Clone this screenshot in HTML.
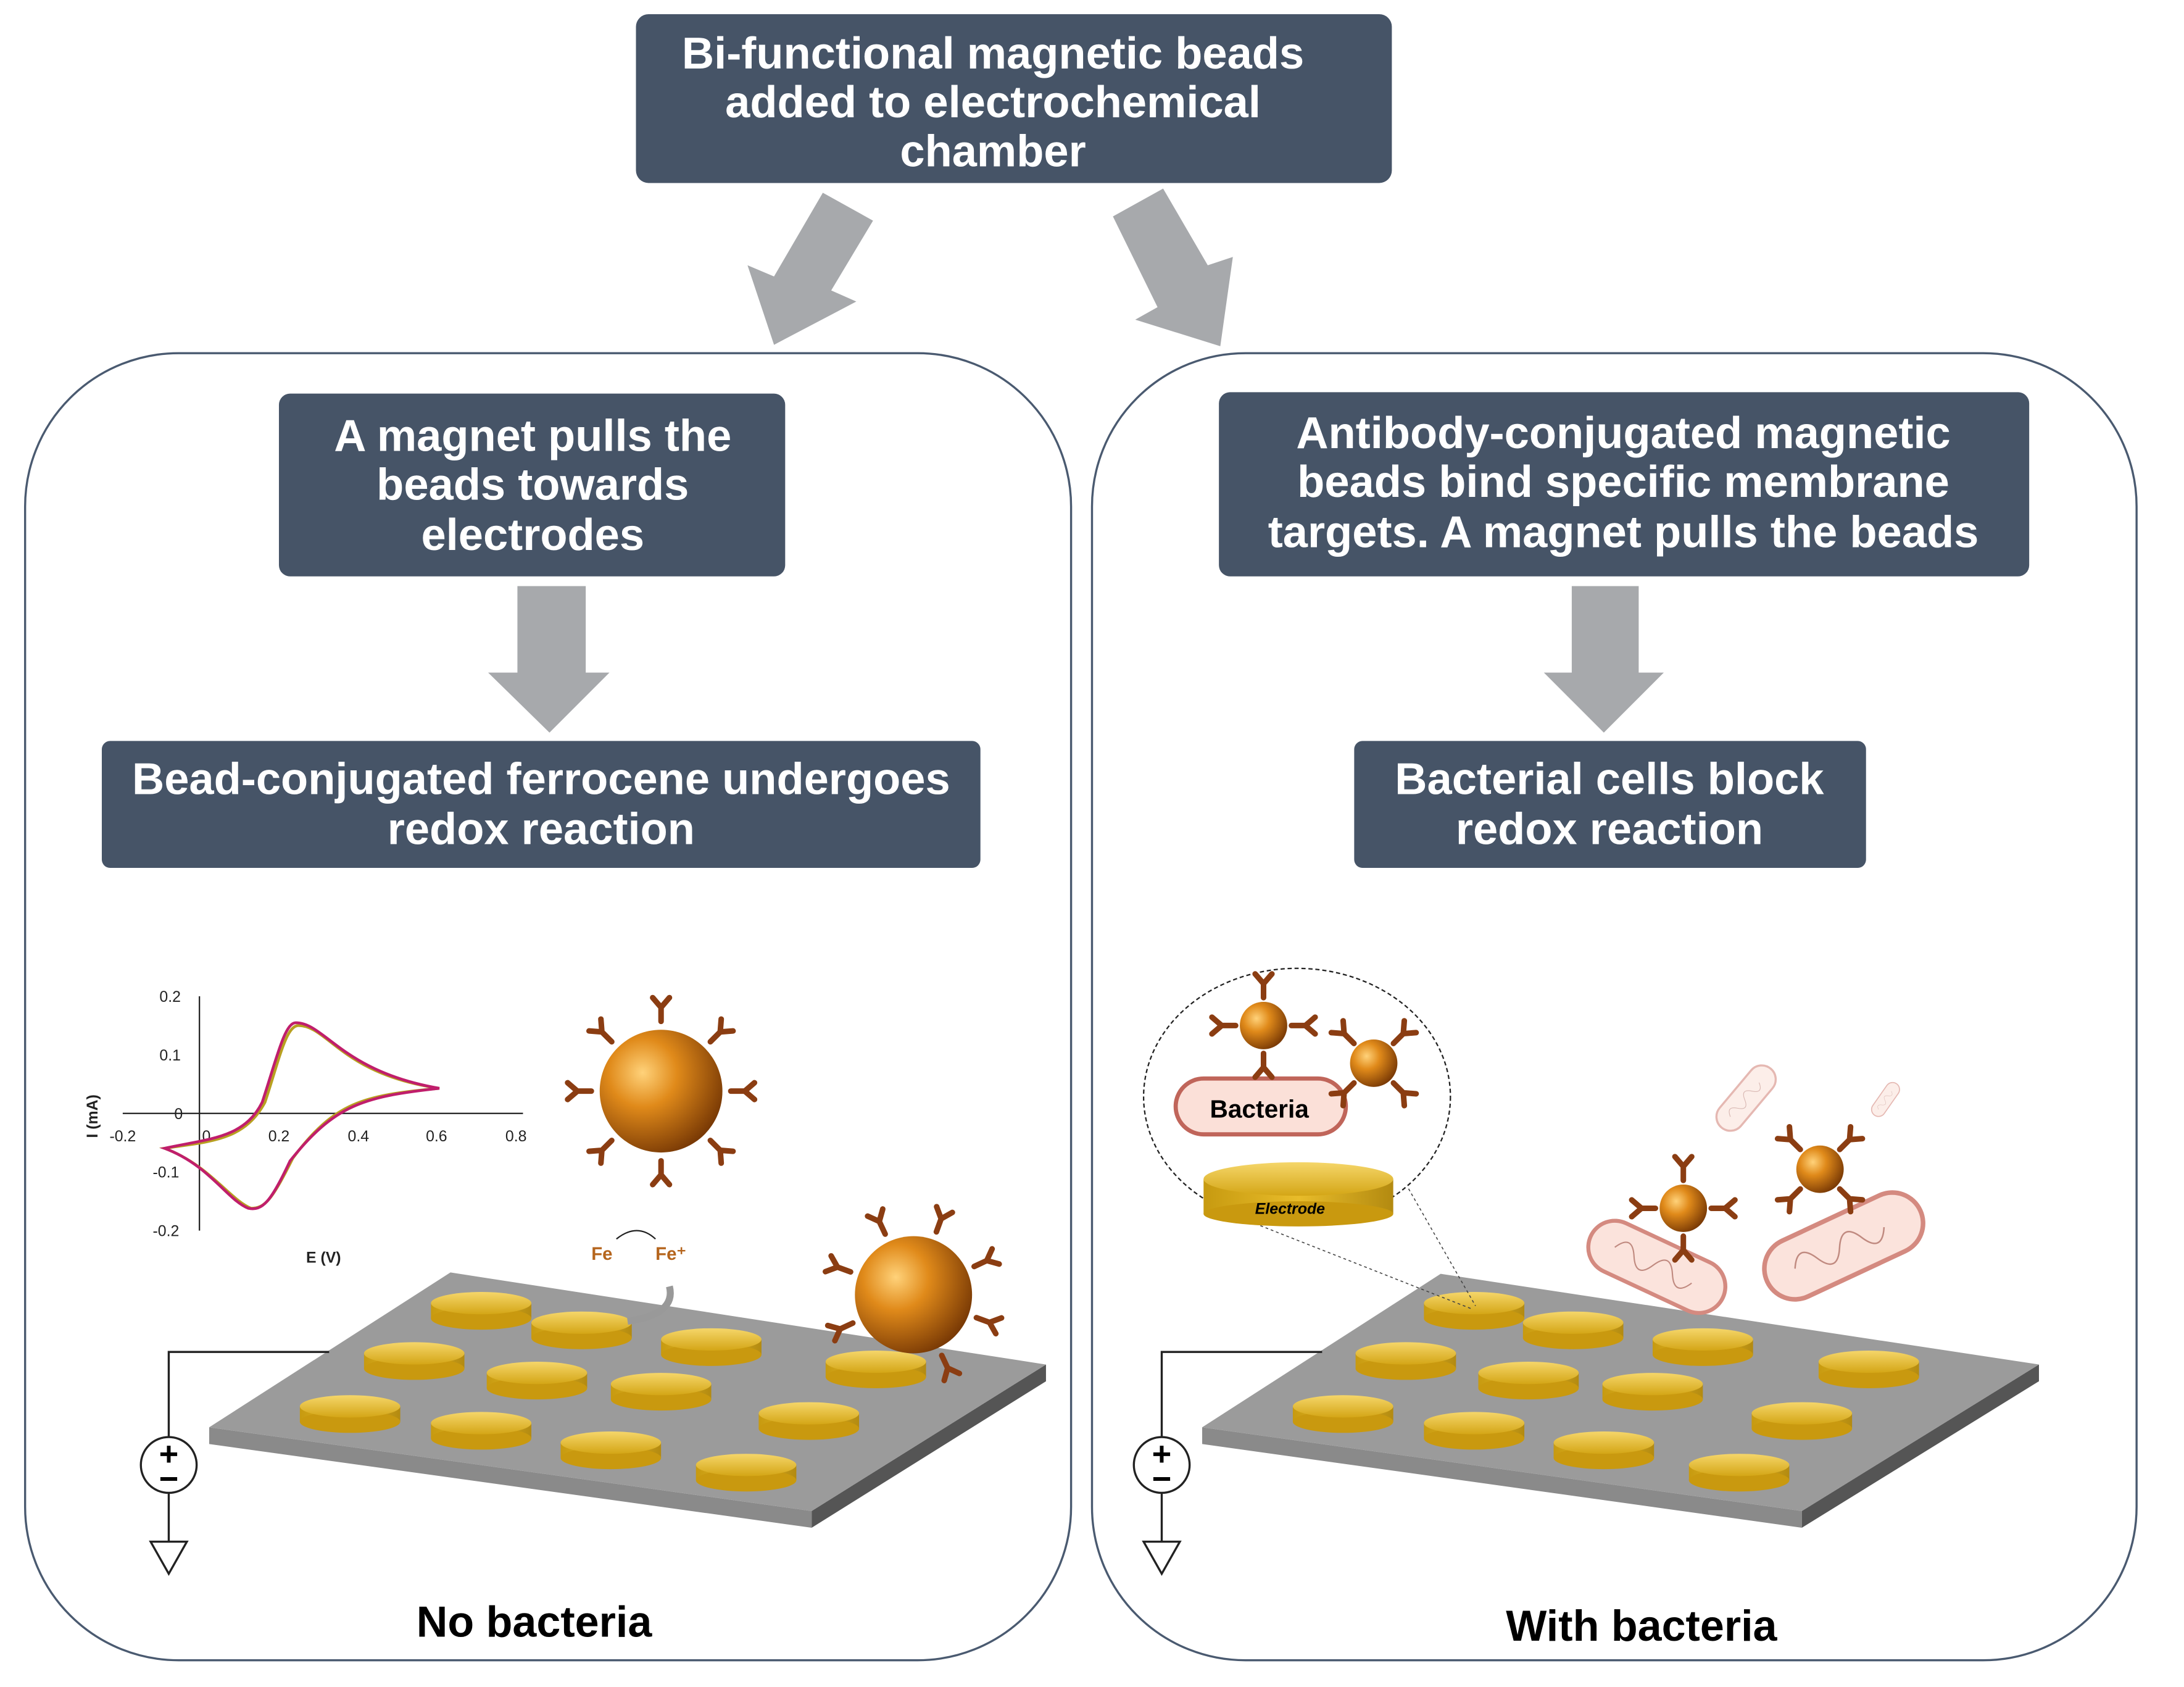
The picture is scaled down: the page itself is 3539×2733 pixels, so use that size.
<!DOCTYPE html>
<html><head><meta charset="utf-8"><style>html,body{margin:0;padding:0;background:#fff}svg{display:block}</style></head><body>
<svg width="3539" height="2733" viewBox="0 0 1566 1209" xmlns="http://www.w3.org/2000/svg" font-family="Liberation Sans, sans-serif">
<defs>
<radialGradient id="bead" cx="0.35" cy="0.35" r="0.7"><stop offset="0" stop-color="#ffd27a"/><stop offset="0.4" stop-color="#e08a1a"/><stop offset="1" stop-color="#7a3a05"/></radialGradient>
<linearGradient id="gold" x1="0" y1="0" x2="0" y2="1"><stop offset="0" stop-color="#f5d66a"/><stop offset="1" stop-color="#d4a616"/></linearGradient>
<linearGradient id="goldside" x1="0" y1="0" x2="1" y2="0"><stop offset="0" stop-color="#c79a10"/><stop offset="0.5" stop-color="#e8bc2a"/><stop offset="1" stop-color="#b38a10"/></linearGradient>
<g id="el"><rect x="-36" y="0" width="72" height="11" fill="url(#goldside)"/><ellipse cx="0" cy="11" rx="36" ry="8" fill="#c9990f"/><ellipse cx="0" cy="0" rx="36" ry="8" fill="url(#gold)"/></g>
<g id="ab" stroke="#8b3d12" stroke-width="4" fill="none" stroke-linecap="round"><path d="M0 0 L0 -10 M0 -10 L-6 -17 M0 -10 L6 -17"/></g>
<g id="bact"><rect x="-55" y="-20" width="110" height="40" rx="20" fill="#fbe3dc" stroke="#d48a80" stroke-width="3"/><path d="M-35 0 q8 -15 16 0 t16 0 t16 0 t16 0" stroke="#c08a80" fill="none"/></g>
</defs>
<rect x="456" y="10" width="542" height="121" rx="9" fill="#465467"/>
<g fill="#fff" font-weight="bold" font-size="32" text-anchor="middle">
<text x="712" y="49">Bi-functional magnetic beads</text>
<text x="712" y="84">added to electrochemical</text>
<text x="712" y="119">chamber</text>
</g>
<polygon points="590,138 626,158 596,208 614,216 555,247 536,190 555,198" fill="#a7a9ac"/>
<polygon points="798,155 834,135 866,190 884,184 875,248 814,229 830,220" fill="#a7a9ac"/>
<rect x="18" y="253" width="750" height="937" rx="110" fill="none" stroke="#4a5a70" stroke-width="1.5"/>
<rect x="783" y="253" width="749" height="937" rx="110" fill="none" stroke="#4a5a70" stroke-width="1.5"/>
<rect x="200" y="282" width="363" height="131" rx="8" fill="#465467"/>
<rect x="73" y="531" width="630" height="91" rx="6" fill="#465467"/>
<rect x="874" y="281" width="581" height="132" rx="8" fill="#465467"/>
<rect x="971" y="531" width="367" height="91" rx="6" fill="#465467"/>
<g fill="#fff" font-weight="bold" font-size="32" text-anchor="middle">
<text x="382" y="323">A magnet pulls the</text>
<text x="382" y="358">beads towards</text>
<text x="382" y="394">electrodes</text>
<text x="388" y="569">Bead-conjugated ferrocene undergoes</text>
<text x="388" y="605">redox reaction</text>
<text x="1164" y="321">Antibody-conjugated magnetic</text>
<text x="1164" y="356">beads bind specific membrane</text>
<text x="1164" y="392">targets. A magnet pulls the beads</text>
<text x="1154" y="569">Bacterial cells block</text>
<text x="1154" y="605">redox reaction</text>
</g>
<polygon points="371,420 420,420 420,482 437,482 394,525 350,482 371,482" fill="#a7a9ac"/>
<polygon points="1127,420 1175,420 1175,482 1193,482 1150,525 1107,482 1127,482" fill="#a7a9ac"/>
<text x="383" y="1173" font-weight="bold" font-size="31" text-anchor="middle">No bacteria</text>
<text x="1177" y="1176" font-weight="bold" font-size="31" text-anchor="middle">With bacteria</text>
<polygon points="150,1023 582,1083 582,1095 150,1035" fill="#8a8a8a"/>
<polygon points="582,1083 750,978 750,990 582,1095" fill="#555"/>
<polygon points="323,912 750,978 582,1083 150,1023" fill="#9b9b9b"/>
<g>
<use href="#el" x="345" y="934"/><use href="#el" x="417" y="948"/><use href="#el" x="510" y="960"/><use href="#el" x="628" y="976"/>
<use href="#el" x="297" y="970"/><use href="#el" x="385" y="984"/><use href="#el" x="474" y="992"/><use href="#el" x="580" y="1013"/>
<use href="#el" x="251" y="1008"/><use href="#el" x="345" y="1020"/><use href="#el" x="438" y="1034"/><use href="#el" x="535" y="1050"/>
</g>
<polygon points="862,1023 1292,1083 1292,1095 862,1035" fill="#8a8a8a"/>
<polygon points="1292,1083 1462,978 1462,990 1292,1095" fill="#555"/>
<polygon points="1033,913 1462,978 1292,1083 862,1023" fill="#9b9b9b"/>
<g>
<use href="#el" x="1057" y="934"/><use href="#el" x="1128" y="948"/><use href="#el" x="1221" y="960"/><use href="#el" x="1340" y="976"/>
<use href="#el" x="1008" y="970"/><use href="#el" x="1096" y="984"/><use href="#el" x="1185" y="992"/><use href="#el" x="1292" y="1013"/>
<use href="#el" x="963" y="1008"/><use href="#el" x="1057" y="1020"/><use href="#el" x="1150" y="1034"/><use href="#el" x="1247" y="1050"/>
</g>
<g stroke="#222" stroke-width="1.5" fill="none">
<path d="M236 969 H121 V1030 M121 1070 V1105 M108 1105 H134 L121 1128 Z"/>
<circle cx="121" cy="1050" r="20" fill="#fff"/>
<path d="M948 969 H833 V1030 M833 1070 V1105 M820 1105 H846 L833 1128 Z"/>
<circle cx="833" cy="1050" r="20" fill="#fff"/>
</g>
<g font-weight="bold" font-size="24" text-anchor="middle"><text x="121" y="1050">+</text><text x="121" y="1068">−</text><text x="833" y="1050">+</text><text x="833" y="1068">−</text></g>
<g stroke="#222" stroke-width="1" fill="none"><path d="M88 798 H375 M143 714 V882"/></g>
<g font-size="11" text-anchor="middle" fill="#222">
<text x="88" y="818">-0.2</text><text x="148" y="818">0</text><text x="200" y="818">0.2</text><text x="257" y="818">0.4</text><text x="313" y="818">0.6</text><text x="370" y="818">0.8</text>
<text x="122" y="718">0.2</text><text x="122" y="760">0.1</text><text x="128" y="802">0</text><text x="119" y="844">-0.1</text><text x="119" y="886">-0.2</text>
<text x="232" y="905" font-weight="bold">E (V)</text>
<text x="70" y="800" transform="rotate(-90 70 800)" font-weight="bold">I (mA)</text>
</g>
<path d="M118 823 C150 818 175 818 190 790 C200 760 205 735 214 735 C235 735 245 770 315 780 C260 785 240 790 210 830 C195 860 190 866 180 866 C165 860 150 835 118 823 Z" fill="none" stroke="#b8a020" stroke-width="2"/>
<path d="M118 823 C150 816 175 816 188 790 C198 760 204 733 212 733 C233 733 245 768 315 780 C260 786 240 792 208 832 C194 862 188 868 178 866 C163 860 150 835 118 823 Z" fill="none" stroke="#c01e6c" stroke-width="2"/>
<g>
<use href="#ab" transform="translate(474,782) rotate(0) translate(0,-50)"/><use href="#ab" transform="translate(474,782) rotate(45) translate(0,-50)"/><use href="#ab" transform="translate(474,782) rotate(90) translate(0,-50)"/><use href="#ab" transform="translate(474,782) rotate(135) translate(0,-50)"/><use href="#ab" transform="translate(474,782) rotate(180) translate(0,-50)"/><use href="#ab" transform="translate(474,782) rotate(225) translate(0,-50)"/><use href="#ab" transform="translate(474,782) rotate(270) translate(0,-50)"/><use href="#ab" transform="translate(474,782) rotate(315) translate(0,-50)"/>
<circle cx="474" cy="782" r="44" fill="url(#bead)"/>
<use href="#ab" transform="translate(655,928) rotate(20) translate(0,-48)"/><use href="#ab" transform="translate(655,928) rotate(65) translate(0,-48)"/><use href="#ab" transform="translate(655,928) rotate(110) translate(0,-48)"/><use href="#ab" transform="translate(655,928) rotate(155) translate(0,-48)"/><use href="#ab" transform="translate(655,928) rotate(245) translate(0,-48)"/><use href="#ab" transform="translate(655,928) rotate(290) translate(0,-48)"/><use href="#ab" transform="translate(655,928) rotate(335) translate(0,-48)"/>
<circle cx="655" cy="928" r="42" fill="url(#bead)"/>
</g>
<g font-size="13" font-weight="bold" fill="#b5651d"><text x="424" y="903">Fe</text><text x="470" y="903">Fe⁺</text></g>
<path d="M442 888 q15 -12 28 0" stroke="#222" fill="none"/>
<path d="M480 922 q5 20 -30 25" stroke="#999" stroke-width="5" fill="none"/>
<ellipse cx="930" cy="786" rx="110" ry="92" fill="#fff" stroke="#222" stroke-dasharray="3,2"/>
<path d="M900 877 L1055 938 M1010 852 L1058 936" stroke="#444" stroke-dasharray="2,2" stroke-width="0.7"/>
<rect x="843" y="773" width="122" height="40" rx="20" fill="#fbe0d8" stroke="#c0655a" stroke-width="3"/>
<text x="903" y="801" font-weight="bold" font-size="18" text-anchor="middle">Bacteria</text>
<rect x="863" y="845" width="136" height="25" fill="url(#goldside)"/>
<ellipse cx="931" cy="870" rx="68" ry="9" fill="#c9990f"/>
<ellipse cx="931" cy="845" rx="68" ry="12" fill="url(#gold)"/>
<text x="925" y="870" font-weight="bold" font-style="italic" font-size="11" text-anchor="middle">Electrode</text>
<g>
<use href="#ab" transform="translate(906,735) rotate(0) translate(0,-20)"/><use href="#ab" transform="translate(906,735) rotate(90) translate(0,-20)"/><use href="#ab" transform="translate(906,735) rotate(180) translate(0,-20)"/><use href="#ab" transform="translate(906,735) rotate(270) translate(0,-20)"/>
<circle cx="906" cy="735" r="17" fill="url(#bead)"/>
<use href="#ab" transform="translate(985,762) rotate(45) translate(0,-20)"/><use href="#ab" transform="translate(985,762) rotate(135) translate(0,-20)"/><use href="#ab" transform="translate(985,762) rotate(225) translate(0,-20)"/><use href="#ab" transform="translate(985,762) rotate(315) translate(0,-20)"/>
<circle cx="985" cy="762" r="17" fill="url(#bead)"/>
</g>
<use href="#bact" transform="translate(1188,908) rotate(25) scale(0.95)"/>
<use href="#bact" transform="translate(1322,893) rotate(-25) scale(1.1)"/>
<use href="#bact" transform="translate(1252,787) rotate(-50) scale(0.5)" opacity="0.6"/>
<use href="#bact" transform="translate(1352,788) rotate(-55) scale(0.25)" opacity="0.6"/>
<g>
<use href="#ab" transform="translate(1207,866) rotate(0) translate(0,-20)"/><use href="#ab" transform="translate(1207,866) rotate(90) translate(0,-20)"/><use href="#ab" transform="translate(1207,866) rotate(180) translate(0,-20)"/><use href="#ab" transform="translate(1207,866) rotate(270) translate(0,-20)"/>
<circle cx="1207" cy="866" r="17" fill="url(#bead)"/>
<use href="#ab" transform="translate(1305,838) rotate(45) translate(0,-20)"/><use href="#ab" transform="translate(1305,838) rotate(135) translate(0,-20)"/><use href="#ab" transform="translate(1305,838) rotate(225) translate(0,-20)"/><use href="#ab" transform="translate(1305,838) rotate(315) translate(0,-20)"/>
<circle cx="1305" cy="838" r="17" fill="url(#bead)"/>
</g>
</svg>
</body></html>
